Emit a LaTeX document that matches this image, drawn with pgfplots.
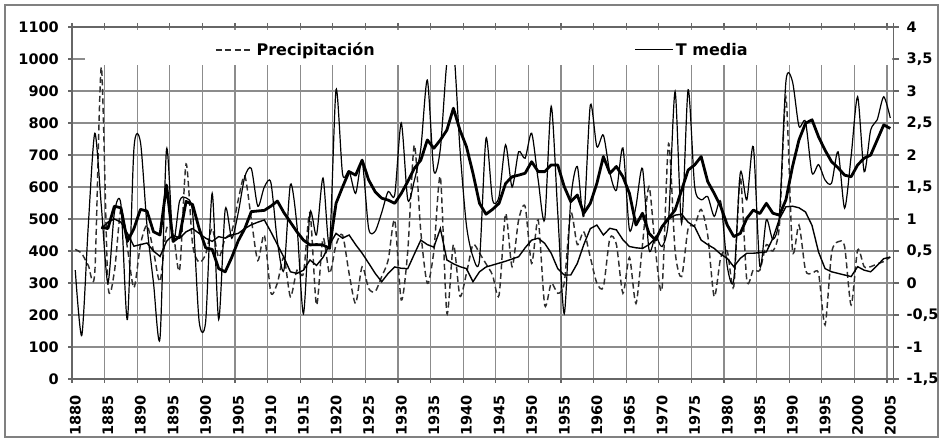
\documentclass[border=0pt]{standalone}
\usepackage{pgfplots}
\pgfplotsset{compat=1.18}
\usepackage{pgfplotstable}
\usepackage{fontspec}
\setmainfont{DejaVu Sans}

\pgfplotstableread{
year P PM
1880 405 nan
1881 392 nan
1882 355 nan
1883 335 nan
1884 975 470
1885 300 490
1886 335 500
1887 530 490
1888 410 455
1889 285 415
1890 420 420
1891 480 425
1892 400 400
1893 305 383
1894 470 430
1895 460 450
1896 340 440
1897 672 460
1898 420 470
1899 365 455
1900 390 440
1901 470 430
1902 380 445
1903 440 440
1904 460 450
1905 560 455
1906 635 470
1907 500 482
1908 370 490
1909 450 497
1910 270 460
1911 300 420
1912 380 380
1913 257 335
1914 340 330
1915 330 340
1916 520 372
1917 231 355
1918 440 380
1919 330 420
1920 420 455
1921 450 440
1922 330 450
1923 236 420
1924 351 393
1925 283 362
1926 273 330
1927 320 304
1928 372 330
1929 497 350
1930 247 346
1931 400 345
1932 731 390
1933 460 434
1934 299 420
1935 400 412
1936 632 470
1937 205 372
1938 420 360
1939 259 351
1940 330 345
1941 420 304
1942 393 335
1943 360 350
1944 325 356
1945 262 362
1946 517 368
1947 351 375
1948 497 382
1949 539 410
1950 361 434
1951 497 440
1952 231 424
1953 299 393
1954 268 345
1955 300 325
1956 520 325
1957 420 361
1958 460 420
1959 380 470
1960 300 481
1961 288 450
1962 440 471
1963 420 466
1964 268 435
1965 380 414
1966 236 410
1967 420 408
1968 601 420
1969 400 440
1970 283 476
1971 736 500
1972 400 512
1973 320 515
1974 470 490
1975 480 476
1976 530 434
1977 450 420
1978 257 408
1979 380 390
1980 400 377
1981 289 351
1982 632 377
1983 309 393
1984 341 393
1985 340 395
1986 420 397
1987 400 440
1988 480 500
1989 880 538
1990 403 540
1991 481 535
1992 340 522
1993 330 480
1994 330 397
1995 169 345
1996 393 335
1997 429 330
1998 414 325
1999 231 320
2000 403 351
2001 351 340
2002 351 335
2003 360 355
2004 367 376
2005 381 381
}\precip

\pgfplotstableread{
year T TM
1880 0.20 nan
1881 -0.82 nan
1882 0.90 nan
1883 2.34 nan
1884 1.20 0.875
1885 0.00 0.85
1886 1.10 1.20
1887 1.23 1.175
1888 -0.57 0.65
1889 2.10 0.85
1890 2.20 1.15
1891 0.90 1.125
1892 0.00 0.80
1893 -0.86 0.75
1894 2.09 1.53
1895 0.65 0.65
1896 1.28 0.725
1897 1.33 1.275
1898 1.10 1.225
1899 -0.60 0.85
1900 -0.60 0.55
1901 1.40 0.525
1902 -0.57 0.225
1903 1.15 0.175
1904 0.70 0.40
1905 1.10 0.66
1906 1.66 0.85
1907 1.79 1.115
1908 1.20 1.125
1909 1.50 1.135
1910 1.57 1.20
1911 0.65 1.28
1912 0.20 1.10
1913 1.54 0.95
1914 0.90 0.80
1915 -0.48 0.67
1916 1.10 0.595
1917 0.75 0.60
1918 1.64 0.595
1919 0.60 0.54
1920 3.02 1.245
1921 1.70 1.50
1922 1.75 1.74
1923 1.40 1.685
1924 1.90 1.92
1925 0.85 1.61
1926 0.81 1.425
1927 1.10 1.325
1928 1.43 1.295
1929 1.38 1.245
1930 2.50 1.40
1931 1.30 1.585
1932 1.60 1.79
1933 2.10 1.92
1934 3.17 2.235
1935 1.75 2.105
1936 2.10 2.235
1937 3.45 2.39
1938 3.70 2.73
1939 2.10 2.39
1940 0.90 2.13
1941 0.41 1.715
1942 0.36 1.245
1943 2.26 1.075
1944 1.30 1.15
1945 1.35 1.245
1946 2.16 1.555
1947 1.50 1.66
1948 2.05 1.685
1949 1.95 1.715
1950 2.34 1.895
1951 1.61 1.74
1952 0.99 1.74
1953 2.76 1.845
1954 1.10 1.845
1955 -0.48 1.505
1956 1.30 1.27
1957 1.82 1.375
1958 1.04 1.09
1959 2.78 1.245
1960 2.13 1.555
1961 2.31 1.975
1962 1.72 1.715
1963 1.45 1.82
1964 2.11 1.66
1965 0.83 1.40
1966 1.20 0.905
1967 1.79 1.09
1968 0.52 0.775
1969 0.73 0.67
1970 0.57 0.88
1971 0.99 1.01
1972 2.99 1.14
1973 0.93 1.45
1974 3.02 1.765
1975 1.51 1.845
1976 1.30 1.975
1977 1.35 1.585
1978 1.04 1.40
1979 1.27 1.195
1980 0.26 0.905
1981 0.05 0.725
1982 1.72 0.775
1983 1.30 1.01
1984 2.13 1.14
1985 0.26 1.085
1986 0.99 1.245
1987 0.68 1.09
1988 1.06 1.06
1989 3.15 1.30
1990 3.15 1.815
1991 2.45 2.235
1992 2.52 2.495
1993 1.72 2.55
1994 1.85 2.285
1995 1.61 2.075
1996 1.56 1.895
1997 2.05 1.80
1998 1.17 1.685
1999 1.98 1.66
2000 2.91 1.845
2001 1.74 1.95
2002 2.39 2.00
2003 2.55 2.235
2004 2.91 2.47
2005 2.58 2.415
}\temp

\pgfplotsset{
  tfont/.style={font=\fontsize{14.5}{16}\selectfont\bfseries},
  pstyle/.style={color=black!82, line width=1.45pt, dash pattern=on 6pt off 3.5pt, smooth, tension=0.45},
  tstyle/.style={color=black, line width=1.2pt, smooth, tension=0.45},
}

\begin{document}
\begin{tikzpicture}[x=1pt,y=1pt]
\path[use as bounding box] (0,0) rectangle (945,441);
\draw[black!50, line width=2pt] (5,4) rectangle (938,436);
\begin{axis}[
  at={(72pt,62pt)}, anchor=south west, scale only axis,
  width=821.5pt, height=352pt,
  xmin=1879.5, xmax=2005.5, ymin=0, ymax=1100,
  axis line style={black!60, line width=1.3pt},
  xtick={1880,1885,1890,1895,1900,1905,1910,1915,1920,1925,1930,1935,1940,1945,1950,1955,1960,1965,1970,1975,1980,1985,1990,1995,2000,2005},
  xticklabels={1880,1885,1890,1895,1900,1905,1910,1915,1920,1925,1930,1935,1940,1945,1950,1955,1960,1965,1970,1975,1980,1985,1990,1995,2000,2005},
  minor xtick={1879.5,1884.5,1889.5,1894.5,1899.5,1904.5,1909.5,1914.5,1919.5,1924.5,1929.5,1934.5,1939.5,1944.5,1949.5,1954.5,1959.5,1964.5,1969.5,1974.5,1979.5,1984.5,1989.5,1994.5,1999.5,2004.5,2005.5},
  major x tick style={draw=none},
  minor x tick style={black!60, line width=1.2pt},
  minor tick length=4pt,
  major tick length=4pt,
  tick align=outside,
  ytick={0,100,...,1100},
  yticklabels={0,100,200,300,400,500,600,700,800,900,1000,1100},
  ytick style={black!60, line width=1.2pt},
  xmajorgrids=false, xminorgrids=true, ymajorgrids=true,
  major grid style={black!45, line width=1.2pt},
  minor grid style={black!45, line width=1.2pt},
  ticklabel style={tfont},
  xticklabel style={rotate=90, anchor=east, inner sep=0pt},
  yticklabel style={anchor=east, inner sep=0pt},
  xticklabel shift=12pt,
  yticklabel shift=9pt,
  clip=true,
]
\addplot[pstyle] table[x=year, y=P] {\precip};
\addplot[color=black, line width=1.4pt] table[x=year, y=PM] {\precip};
\end{axis}
\begin{axis}[
  at={(72pt,62pt)}, anchor=south west, scale only axis,
  width=821.5pt, height=352pt,
  xmin=1879.5, xmax=2005.5, ymin=-1.5, ymax=4,
  axis x line=none, axis y line*=right,
  axis line style={black!60, line width=1.3pt},
  ytick={-1.5,-1,-0.5,0,0.5,1,1.5,2,2.5,3,3.5,4},
  yticklabels={{-1,5},{-1},{-0,5},0,{0,5},1,{1,5},2,{2,5},3,{3,5},4},
  ytick style={black!60, line width=1.2pt},
  major tick length=5pt, tick align=outside,
  ticklabel style={tfont},
  yticklabel style={anchor=west, inner sep=0pt},
  yticklabel shift=8pt,
  legend image code/.code={\draw[#1] (0pt,0pt) -- (38pt,0pt);},
  legend style={draw=none, fill=none, inner sep=0pt,
    at={(rel axis cs:0.174,0.935)}, anchor=west,
    font=\fontsize{16}{18}\selectfont\bfseries,
    legend columns=2,
    /tikz/every even column/.append style={column sep=258pt}},
]
\addlegendimage{pstyle}
\addlegendentry{Precipitación}
\addplot[tstyle] table[x=year, y=T] {\temp};
\addlegendentry{T media}
\addplot[color=black, line width=2.8pt, line join=round, forget plot] table[x=year, y=TM] {\temp};
\fill[white] (axis cs:1881.5,3.405) rectangle (axis cs:2005.2,3.955);
\end{axis}
\end{tikzpicture}
\end{document}
